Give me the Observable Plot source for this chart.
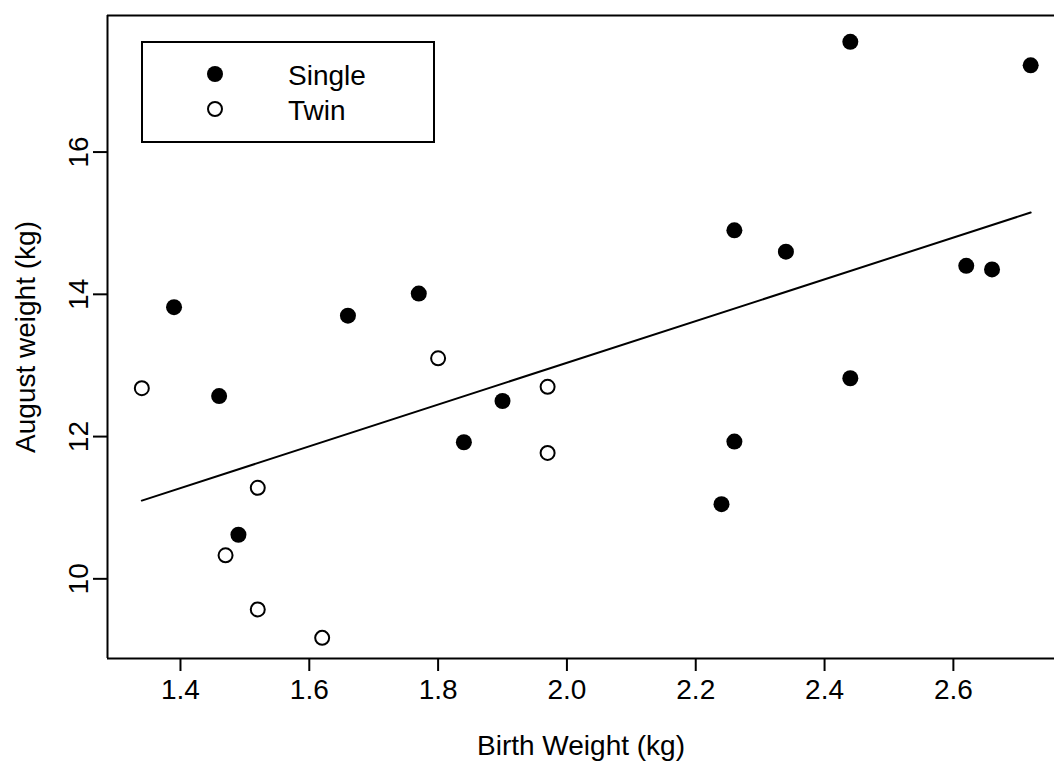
<!DOCTYPE html>
<html>
<head>
<meta charset="utf-8">
<script src="https://cdn.jsdelivr.net/npm/d3@7"></script>
<script src="https://cdn.jsdelivr.net/npm/@observablehq/plot@0.6"></script>
<style>
  html, body { margin: 0; padding: 0; background: #fff; }
  #wrap { position: relative; width: 1054px; height: 768px; overflow: hidden; font-family: "Liberation Sans", Arial, sans-serif; }
  #legend { position: absolute; left: 141px; top: 41px; width: 294px; height: 102px; border: 2px solid #000; box-sizing: border-box; background: #fff; }
  #legend svg { display: block; }
  #legend .lbl { position: absolute; left: 145px; font-size: 28px; color: #000; line-height: 1; }
</style>
</head>
<body>
<div id="wrap">
  <div id="chart"></div>
  <div id="legend">
    <svg width="120" height="98" style="position:absolute;left:0;top:0">
      <circle cx="72" cy="31" r="8" fill="#000"></circle>
      <circle cx="72" cy="66" r="7" fill="#fff" stroke="#000" stroke-width="2"></circle>
    </svg>
    <div class="lbl" style="top:19px">Single</div>
    <div class="lbl" style="top:54px">Twin</div>
  </div>
</div>
<script>
// Data
const singleBirth  = [1.39, 1.46, 1.49, 1.66, 1.77, 1.84, 1.90, 2.24, 2.26, 2.26, 2.34, 2.44, 2.44, 2.62, 2.66, 2.72];
const singleAugust = [13.82, 12.57, 10.62, 13.70, 14.01, 11.92, 12.50, 11.05, 11.93, 14.90, 14.60, 17.55, 12.82, 14.40, 14.35, 17.22];
const twinBirth    = [1.34, 1.47, 1.52, 1.52, 1.62, 1.80, 1.97, 1.97];
const twinAugust   = [12.68, 10.33, 11.28, 9.57, 9.17, 13.10, 12.70, 11.77];
const fitBirth     = [1.34, 2.72];
const fitAugust    = [11.10, 15.15];
const xTicks = [1.4, 1.6, 1.8, 2.0, 2.2, 2.4, 2.6];
const yTicks = [10, 12, 14, 16];
const xDomain = [1.2867, 2.757];
const yDomain = [8.88, 17.92];

const single = singleBirth.map((x, i) => ({x, y: singleAugust[i]}));
const twin = twinBirth.map((x, i) => ({x, y: twinAugust[i]}));
const fit = fitBirth.map((x, i) => ({x, y: fitAugust[i]}));

const font = "Liberation Sans, Arial, sans-serif";

const chart = Plot.plot({
  width: 1054,
  height: 768,
  marginLeft: 107,
  marginRight: 0,
  marginTop: 15,
  marginBottom: 110,
  style: {fontFamily: font, fontSize: "28px", color: "#000", background: "#fff"},
  x: {domain: xDomain},
  y: {domain: yDomain},
  marks: [
    Plot.ruleX([xDomain[0]], {stroke: "#000", strokeWidth: 2}),
    Plot.ruleY([yDomain[0]], {stroke: "#000", strokeWidth: 2}),
    Plot.ruleY([yDomain[1]], {stroke: "#000", strokeWidth: 2}),
    Plot.axisX({ticks: xTicks, tickFormat: d3.format(".1f"), tickSize: 13, tickPadding: 8, strokeWidth: 2,
      fontSize: 28, label: "Birth Weight (kg)", labelAnchor: "center", labelOffset: 96, labelArrow: "none"}),
    Plot.axisY({ticks: yTicks, tickSize: 14, tickPadding: 6, strokeWidth: 2, tickRotate: -90,
      fontSize: 28, label: "August weight (kg)", labelAnchor: "center", labelOffset: 92, labelArrow: "none"}),
    Plot.line(fit, {x: "x", y: "y", stroke: "#000", strokeWidth: 2}),
    Plot.dot(single, {x: "x", y: "y", r: 8, fill: "#000", stroke: "none"}),
    Plot.dot(twin, {x: "x", y: "y", r: 7, fill: "#fff", stroke: "#000", strokeWidth: 2})
  ]
});
document.getElementById("chart").appendChild(chart);
</script>
</body>
</html>
